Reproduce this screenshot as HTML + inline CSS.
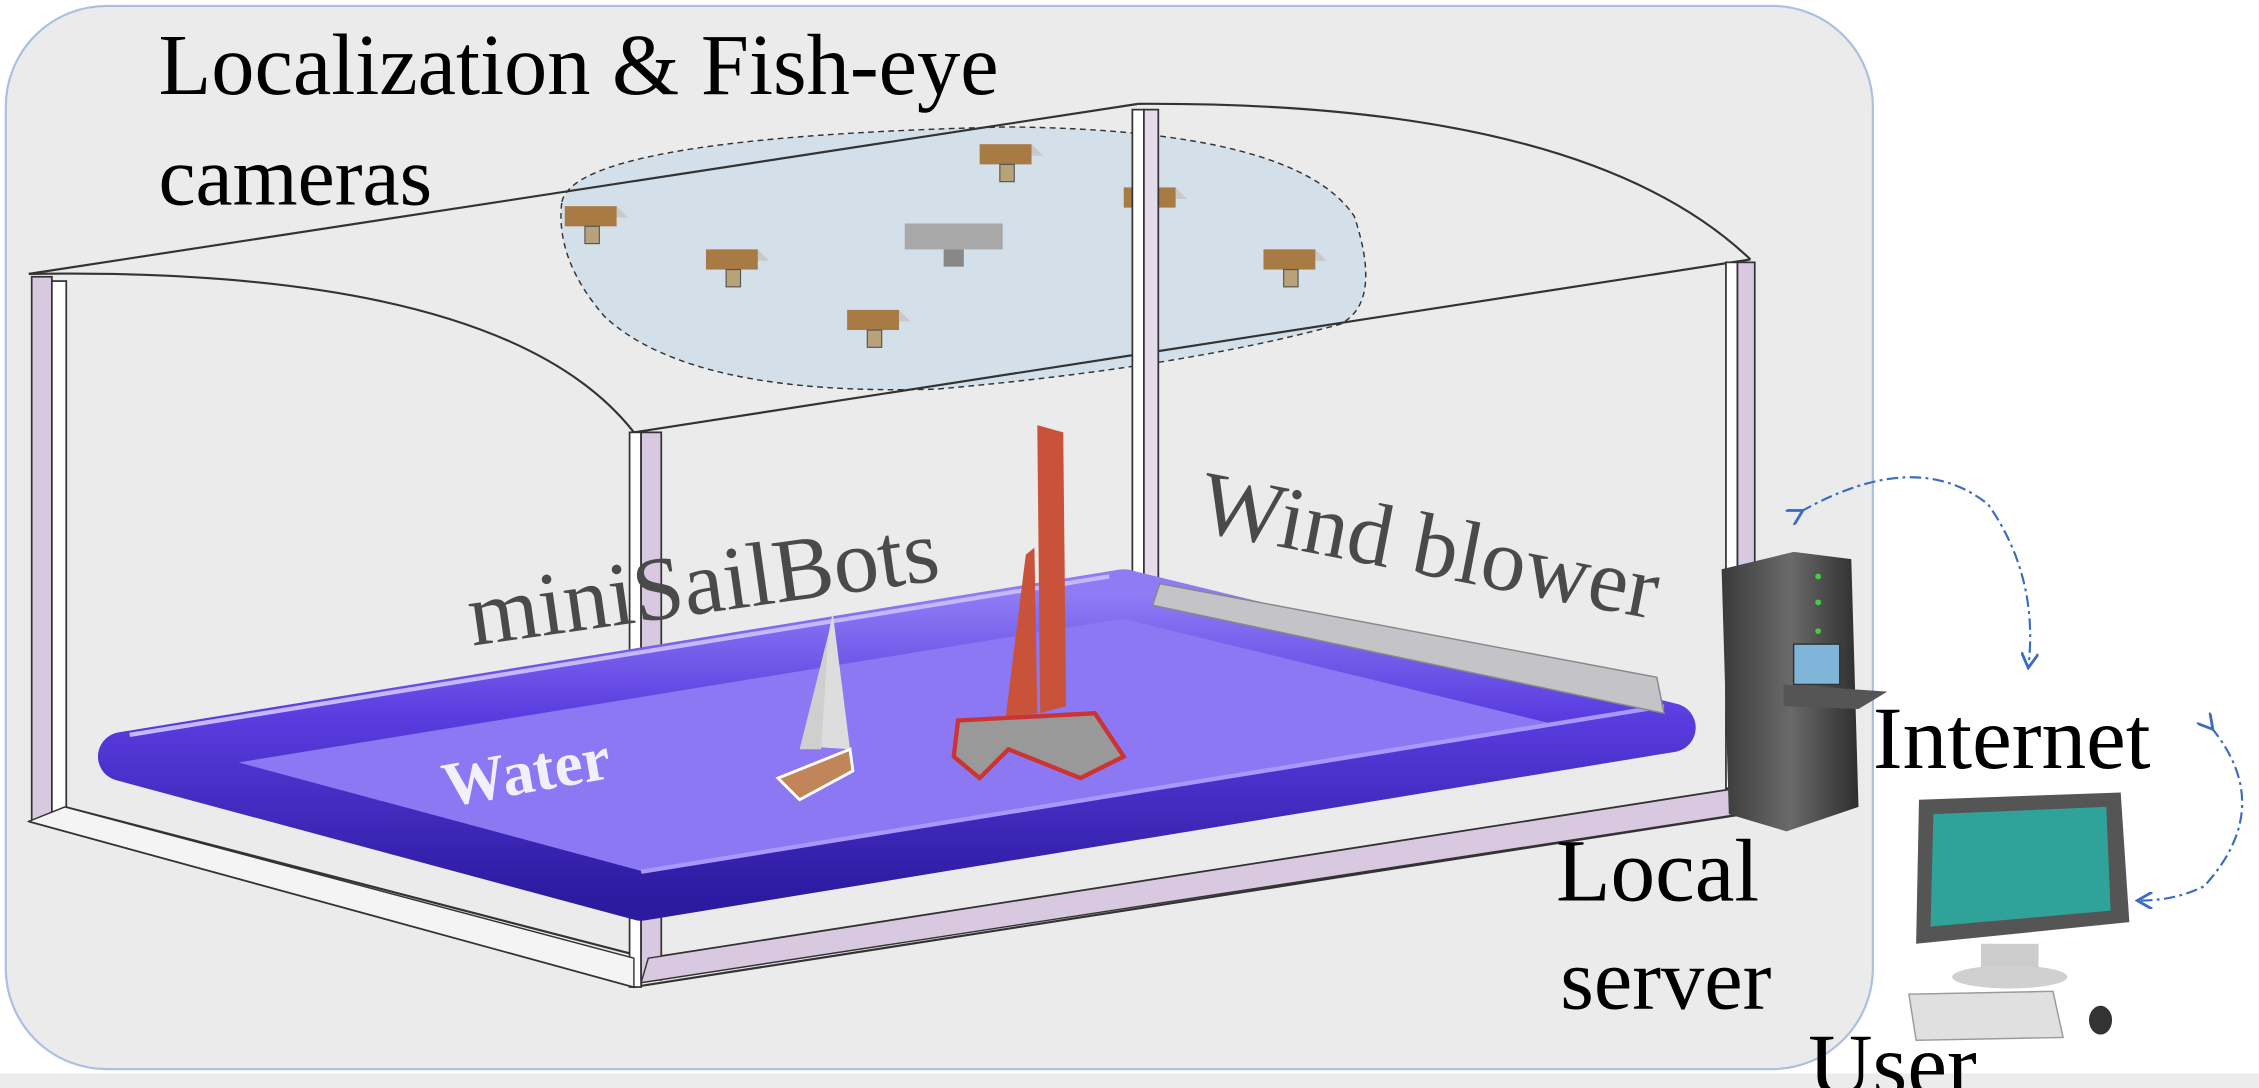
<!DOCTYPE html>
<html><head><meta charset="utf-8">
<style>
html,body{margin:0;padding:0;background:#fff;}
svg{display:block;}
text{font-family:"Liberation Serif",serif;}
</style></head>
<body>
<svg width="2259" height="1088" viewBox="0 0 1568 755" xmlns="http://www.w3.org/2000/svg">
<defs>
<linearGradient id="tube" x1="0" y1="0" x2="0" y2="1">
<stop offset="0" stop-color="#8f7cf5"/><stop offset="0.4" stop-color="#5a3de0"/><stop offset="1" stop-color="#2c1aa0"/>
</linearGradient>
<linearGradient id="srv" x1="0" y1="0" x2="1" y2="0">
<stop offset="0" stop-color="#3a3a3a"/><stop offset="0.5" stop-color="#6a6a6a"/><stop offset="1" stop-color="#2e2e2e"/>
</linearGradient>
<g id="cam"><path d="M0,0 L36,0 L44,8 L8,8 Z" fill="#c9c9c9"/><rect x="0" y="0" width="36" height="14" fill="#a87a44"/><rect x="14" y="14" width="10" height="12" fill="#b8a27a" stroke="#555" stroke-width="0.8"/></g>
<marker id="ah" markerWidth="8" markerHeight="8" refX="6" refY="4" orient="auto"><path d="M0,0 L7,4 L0,8" fill="none" stroke="#3a6cc4" stroke-width="1.3"/></marker>
</defs>
<rect x="0" y="0" width="1568" height="755" fill="#fff"/>
<rect x="0" y="745" width="1568" height="10" fill="#ececec"/>
<rect x="4" y="4" width="1296" height="738" rx="70" fill="#ebebeb" stroke="#a9c0e0" stroke-width="1.5"/>

<path d="M390,140 Q400,95 700,88 Q900,90 940,150 Q960,210 930,225 Q820,255 650,270 Q480,275 420,220 Q385,180 390,140 Z" fill="#c9dbe8" fill-opacity="0.7" stroke="#333" stroke-width="1" stroke-dasharray="4,3"/>
<use href="#cam" x="392" y="143"/><use href="#cam" x="490" y="173"/><use href="#cam" x="680" y="100"/>
<use href="#cam" x="780" y="130"/><use href="#cam" x="877" y="173"/><use href="#cam" x="588" y="215"/>
<rect x="628" y="155" width="68" height="18" fill="#a8a8a8"/><rect x="655" y="173" width="14" height="12" fill="#888"/>

<g fill="none" stroke="#333" stroke-width="1.5">
<path d="M20,190 L790,72"/>
<path d="M790,72 Q1100,70 1215,180"/>
<path d="M20,190 Q350,185 440,300"/>
<path d="M440,300 L1215,180"/>
<path d="M20,570 L440,685 L1210,565"/>
<path d="M45,560 L450,665 L1200,548"/>
</g>
<g stroke="#333" stroke-width="1.2">
<rect x="22" y="192" width="14" height="378" fill="#d8c9e0"/>
<rect x="36" y="195" width="10" height="370" fill="#fff"/>
<rect x="437" y="300" width="8" height="385" fill="#fff"/>
<rect x="445" y="300" width="14" height="380" fill="#d8c9e0"/>
<rect x="786" y="76" width="8" height="336" fill="#fff"/>
<rect x="794" y="76" width="10" height="336" fill="#e4dcea"/>
<rect x="1198" y="182" width="8" height="365" fill="#fff"/>
<rect x="1206" y="182" width="12" height="365" fill="#d8c9e0"/>
</g>
<path d="M450,665 L1200,548 L1208,565 L445,682 Z" fill="#d8c9e0" stroke="#333"/>
<path d="M45,560 L440,665 L440,685 L20,570 Z" fill="#f4f4f4" stroke="#333"/>

<path d="M85,525 L780,412 L1160,505 L445,622 Z" fill="#8b78f2"/>
<path d="M85,525 L780,412 L1160,505 L445,622 Z" fill="none" stroke="url(#tube)" stroke-width="34" stroke-linejoin="round"/>
<path d="M90,510 L770,400" stroke="#c6b8ff" stroke-width="3" fill="none"/>
<path d="M445,605 L1155,490" stroke="#a898ff" stroke-width="3" fill="none"/>
<path d="M805,405 L1150,470 L1155,495 L800,420 Z" fill="#c4c4c8" stroke="#888"/>

<path d="M720,295 L738,300 L740,490 L722,495 Z" fill="#c9533a"/>
<path d="M712,385 L718,380 L720,495 L698,498 Z" fill="#c9533a"/>
<path d="M665,500 L760,495 L780,525 L750,540 L700,520 L680,540 L662,525 Z" fill="#999" stroke="#c33" stroke-width="3"/>
<path d="M578,425 L590,520 L560,518 Z" fill="#ddd"/>
<path d="M575,440 L555,520 L570,520 Z" fill="#cfcfcf"/>
<path d="M540,540 L590,520 L592,535 L555,555 Z" fill="#c0865a" stroke="#fff" stroke-width="2"/>

<path d="M1195,395 L1245,383 L1285,388 L1290,560 L1240,577 L1200,565 Z" fill="url(#srv)"/>
<rect x="1245" y="447" width="32" height="28" fill="#7fb5d8" stroke="#333"/>
<path d="M1238,475 L1310,480 L1290,492 L1238,490 Z" fill="#555"/>
<circle cx="1262" cy="400" r="2" fill="#4c4"/><circle cx="1262" cy="418" r="2" fill="#4c4"/><circle cx="1262" cy="438" r="2" fill="#4c4"/>

<path d="M1332,555 L1472,550 L1478,640 L1330,655 Z" fill="#555"/>
<path d="M1342,565 L1462,560 L1465,632 L1340,643 Z" fill="#2fa39a"/>
<rect x="1375" y="655" width="40" height="20" fill="#ccc"/>
<ellipse cx="1395" cy="678" rx="40" ry="8" fill="#d0d0d0"/>
<path d="M1325,690 L1425,688 L1432,720 L1330,722 Z" fill="#e0e0e0" stroke="#999"/>
<ellipse cx="1458" cy="708" rx="8" ry="10" fill="#333"/>

<path d="M1250,355 Q1330,310 1380,350 Q1415,400 1408,462" fill="none" stroke="#3a6cc4" stroke-width="1.5" stroke-dasharray="8,3,2,3" marker-end="url(#ah)" marker-start="url(#ah)"/>
<path d="M1535,505 Q1580,560 1530,615 Q1510,625 1485,625" fill="none" stroke="#3a6cc4" stroke-width="1.5" stroke-dasharray="8,3,2,3" marker-end="url(#ah)" marker-start="url(#ah)"/>

<text x="110" y="65" font-size="60" fill="#000">Localization &amp; Fish-eye</text>
<text x="110" y="142" font-size="58" fill="#000">cameras</text>
<text x="328" y="448" font-size="63" fill="#4a4a4a" transform="rotate(-8 328 448)">miniSailBots</text>
<text x="830" y="368" font-size="62" fill="#4a4a4a" transform="rotate(11 830 368)">Wind blower</text>
<text x="310" y="560" font-size="44" font-weight="bold" fill="#f0f0ff" transform="rotate(-10 310 560)">Water</text>
<text x="1300" y="533" font-size="62" fill="#000">Internet</text>
<text x="1080" y="625" font-size="62" fill="#000">Local</text>
<text x="1083" y="700" font-size="60" fill="#000">server</text>
<text x="1255" y="760" font-size="62" fill="#000">User</text>
</svg>
</body></html>
